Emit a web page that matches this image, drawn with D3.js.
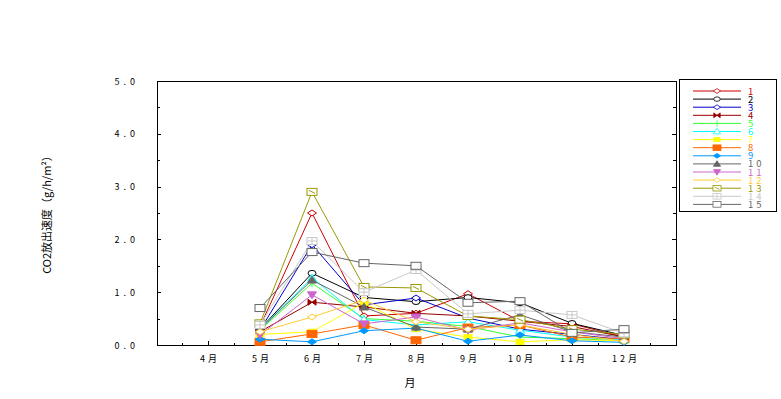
<!DOCTYPE html>
<html>
<head>
<meta charset="utf-8">
<script src="https://cdn.jsdelivr.net/npm/d3@7"></script>
<style>
  body { margin: 0; background: #fff; }
  svg text { font-family: "Noto Sans CJK JP", "DejaVu Sans", sans-serif; }
</style>
</head>
<body>
<svg></svg>
<script>
// Set variables

let months = ['4月', '5月', '6月', '7月', '8月', '9月', '10月', '11月', '12月']
let seriesNames = ['1', '2', '3', '4', '5', '6', '7', '8', '9', '10', '11', '12', '13', '14', '15']
let yTicks = [0, 1, 2, 3, 4, 5]

let s1 = [null, 0.35, 2.50, 0.55, 0.60, 0.97, 0.45, 0.40, 0.15]
let s2 = [null, 0.30, 1.36, 0.90, 0.82, 0.90, 0.80, 0.41, 0.18]
let s3 = [null, 0.28, 1.90, 0.76, 0.89, 0.51, 0.30, 0.20, 0.10]
let s4 = [null, 0.25, 0.81, 0.72, 0.60, 0.55, 0.45, 0.35, 0.15]
let s5 = [null, 0.28, 1.17, 0.50, 0.45, 0.35, 0.15, 0.12, 0.08]
let s6 = [null, 0.30, 1.27, 0.48, 0.38, 0.44, 0.28, 0.15, 0.10]
let s7 = [null, 0.20, 0.25, 0.80, 0.30, 0.15, 0.06, 0.10, 0.08]
let s8 = [null, 0.06, 0.21, 0.38, 0.09, 0.33, 0.38, 0.15, 0.12]
let s9 = [null, 0.11, 0.06, 0.27, 0.32, 0.07, 0.19, 0.08, 0.05]
let s10 = [null, 0.30, 1.23, 0.72, 0.34, 0.30, 0.57, 0.25, 0.15]
let s11 = [null, 0.19, 0.95, 0.40, 0.53, 0.28, 0.42, 0.25, 0.12]
let s12 = [null, 0.25, 0.53, 0.85, 0.44, 0.30, 0.38, 0.20, 0.07]
let s13 = [null, 0.41, 2.90, 1.10, 1.08, 0.55, 0.48, 0.30, 0.20]
let s14 = [null, 0.38, 1.97, 1.00, 1.42, 0.59, 0.66, 0.57, 0.22]
let s15 = [null, 0.70, 1.76, 1.55, 1.50, 0.80, 0.83, 0.23, 0.30]

let allSeries = [s1, s2, s3, s4, s5, s6, s7, s8, s9, s10, s11, s12, s13, s14, s15]

let colors = ['#cc0000', '#000000', '#0000cc', '#990000', '#33ff33', '#00ffff', '#ffff00',
              '#ff6600', '#0099ff', '#666666', '#cc66cc', '#ffcc33', '#999900', '#c8c8c8', '#666666']
let shapes = ['diamondOpen', 'circleOpen', 'diamondOpen', 'bowtie', 'plus', 'triangleOpen', 'rectFilled',
              'squareFilled', 'diamondFilled', 'triangleFilled', 'triangleDownFilled', 'diamondOpen',
              'squareSlash', 'squareCross', 'squareOpen']

let width = 781
let height = 399
let plotLeft = 157
let plotRight = 676
let plotTop = 81
let plotBottom = 345

let svg = d3.select('svg').attr('width', width).attr('height', height)

// Scales

let xScale = d3.scalePoint().domain(months).range([plotLeft - 1, plotRight]).padding(1)
let step = xScale.step()
let yScale = d3.scaleLinear().domain([0, 5]).range([plotBottom, plotTop])

// Marker drawing

let drawMarker = (g, shape, color) => {
    let filled = shape.indexOf('Filled') >= 0
    let fill = filled ? color : '#fff'
    let attr = (el) => el.attr('stroke', color).attr('stroke-width', 1).attr('fill', fill)
    if (shape === 'diamondOpen' || shape === 'diamondFilled') {
        attr(g.append('path').attr('d', 'M-4.5,0 L0,-3 L4.5,0 L0,3 Z'))
    } else if (shape === 'circleOpen') {
        attr(g.append('ellipse').attr('rx', 4).attr('ry', 2.8))
    } else if (shape === 'bowtie') {
        attr(g.append('path').attr('d', 'M-4,-3 L4,3 L4,-3 L-4,3 Z')).attr('fill', color)
    } else if (shape === 'plus') {
        attr(g.append('path').attr('d', 'M0,-4 V4'))
    } else if (shape === 'triangleOpen' || shape === 'triangleFilled') {
        attr(g.append('path').attr('d', 'M0,-4 L4.5,3 L-4.5,3 Z'))
    } else if (shape === 'triangleDownFilled') {
        attr(g.append('path').attr('d', 'M0,4 L4.5,-3 L-4.5,-3 Z'))
    } else if (shape === 'rectFilled') {
        attr(g.append('rect').attr('x', -4).attr('y', -2.5).attr('width', 8).attr('height', 5))
    } else if (shape === 'squareFilled') {
        attr(g.append('rect').attr('x', -5).attr('y', -3.5).attr('width', 10).attr('height', 7))
    } else {
        attr(g.append('rect').attr('x', -5).attr('y', -3.5).attr('width', 10).attr('height', 7))
        if (shape === 'squareSlash') {
            g.append('path').attr('d', 'M-3,-1.5 L3,1.5').attr('stroke', color).attr('fill', 'none')
        } else if (shape === 'squareCross') {
            g.append('path').attr('d', 'M-5,0 H5 M0,-3.5 V3.5').attr('stroke', color).attr('fill', 'none')
        }
    }
}

// Axes

let minorY = d3.range(0, 5.01, 0.5)
let axisG = svg.append('g')
axisG.selectAll('.yt').data(minorY).enter().append('line')
    .attr('x1', plotLeft).attr('x2', (d) => plotLeft + (d % 1 === 0 ? 4 : 3))
    .attr('y1', (d) => Math.round(yScale(d)) + 0.5).attr('y2', (d) => Math.round(yScale(d)) + 0.5)
    .attr('stroke', '#000')
axisG.selectAll('.yr').data(minorY).enter().append('line')
    .attr('x1', plotRight).attr('x2', (d) => plotRight - (d % 1 === 0 ? 4 : 3))
    .attr('y1', (d) => Math.round(yScale(d)) + 0.5).attr('y2', (d) => Math.round(yScale(d)) + 0.5)
    .attr('stroke', '#000')

let xMinor = [xScale(months[0]) - step / 2].concat(months.map((m) => xScale(m) + step / 2))
axisG.selectAll('.xt').data(months).enter().append('line')
    .attr('x1', (d) => Math.round(xScale(d)) + 0.5).attr('x2', (d) => Math.round(xScale(d)) + 0.5)
    .attr('y1', plotBottom).attr('y2', plotBottom - 4).attr('stroke', '#000')
axisG.selectAll('.xm').data(xMinor).enter().append('line')
    .attr('x1', (d) => Math.round(d) + 0.5).attr('x2', (d) => Math.round(d) + 0.5)
    .attr('y1', plotBottom).attr('y2', plotBottom - 2).attr('stroke', '#000')

svg.append('rect')
    .attr('x', plotLeft + 0.5).attr('y', plotTop + 0.5)
    .attr('width', plotRight - plotLeft).attr('height', plotBottom - plotTop)
    .attr('fill', 'none').attr('stroke', '#000')

svg.selectAll('.ylab').data(yTicks).enter().append('text')
    .attr('x', 139).attr('y', (d) => yScale(d) + 3.5)
    .attr('text-anchor', 'end').attr('font-size', 9).attr('letter-spacing', 4)
    .text((d) => d3.format('.1f')(d))

svg.selectAll('.xlab').data(months).enter().append('text')
    .attr('x', (d) => xScale(d) + 2).attr('y', 362)
    .attr('text-anchor', 'middle').attr('font-size', 9).attr('letter-spacing', 3)
    .text((d) => d)

svg.append('text').attr('x', 410).attr('y', 387).attr('text-anchor', 'middle')
    .attr('font-size', 11).text('月')

svg.append('text').attr('transform', 'translate(51,212) rotate(-90)')
    .attr('text-anchor', 'middle').attr('font-size', 11)
    .text('CO2放出速度（g/h/m²）')

// Lines and markers

let line = d3.line()
    .defined((d) => d !== null)
    .x((d, i) => xScale(months[i]))
    .y((d) => yScale(d))

allSeries.forEach((values, k) => {
    let g = svg.append('g')
    g.append('path').datum(values).attr('d', line)
        .attr('fill', 'none').attr('stroke', colors[k]).attr('stroke-width', 1)
    values.forEach((v, i) => {
        if (v === null) return
        let mg = g.append('g').attr('transform', 'translate(' + xScale(months[i]) + ',' + yScale(v) + ')')
        drawMarker(mg, shapes[k], colors[k])
    })
})

// Legend

let legend = svg.append('g')
legend.append('rect').attr('x', 679.5).attr('y', 79.5).attr('width', 97).attr('height', 132)
    .attr('fill', '#fff').attr('stroke', '#000')

seriesNames.forEach((name, k) => {
    let y = 91 + k * 8.1
    legend.append('line').attr('x1', 693).attr('x2', 741).attr('y1', y).attr('y2', y)
        .attr('stroke', colors[k])
    let mg = legend.append('g').attr('transform', 'translate(717,' + y + ') scale(0.8)')
    drawMarker(mg, shapes[k], colors[k])
    legend.append('text').attr('x', 748).attr('y', y + 3.5)
        .attr('font-size', 9.5).attr('letter-spacing', 3).attr('fill', colors[k])
        .text(name)
})
</script>
</body>
</html>
